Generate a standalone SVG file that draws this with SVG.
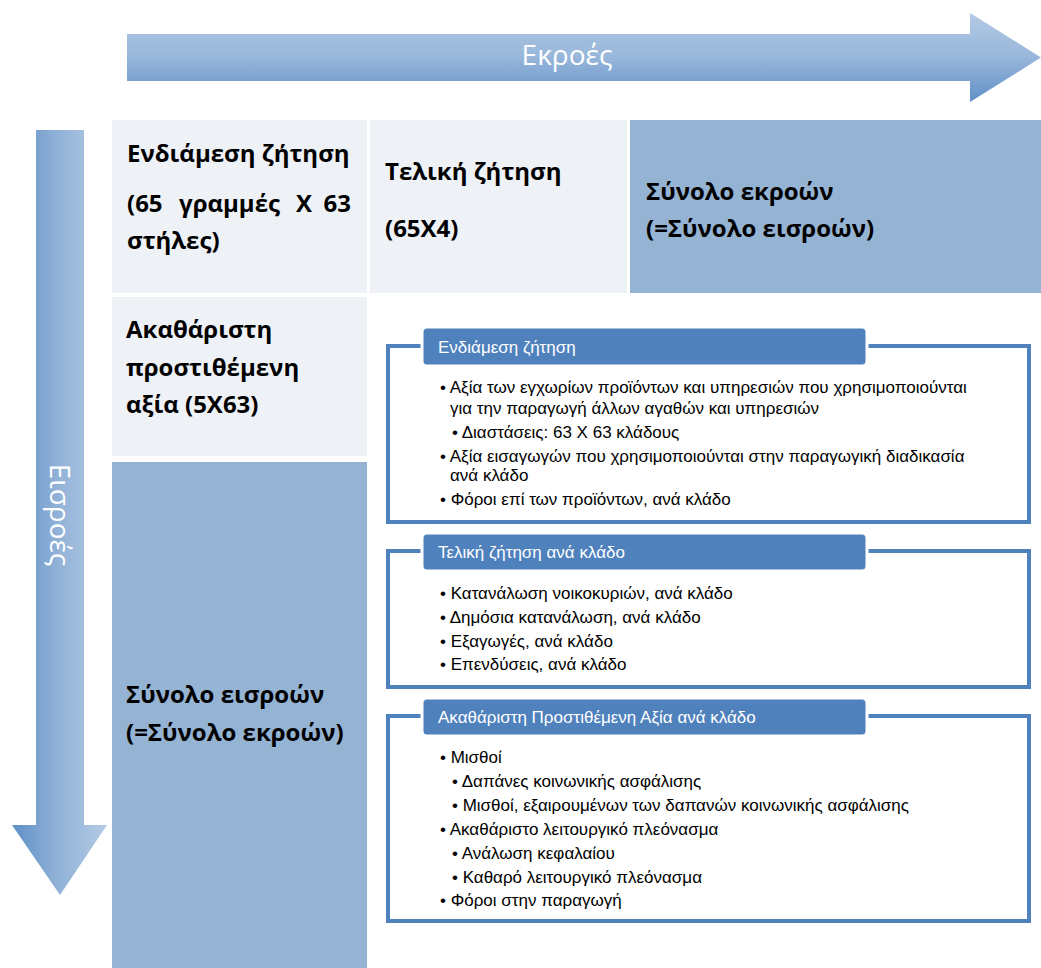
<svg xmlns="http://www.w3.org/2000/svg" width="1041" height="968" viewBox="0 0 1041 968">
  <defs>
    <linearGradient id="gTop" x1="0" y1="0" x2="0" y2="1">
      <stop offset="0" stop-color="#b3cae4"/>
      <stop offset="0.5" stop-color="#97b6da"/>
      <stop offset="1" stop-color="#5f8fc7"/>
    </linearGradient>
    <linearGradient id="gLeft" x1="0" y1="0" x2="1" y2="0">
      <stop offset="0" stop-color="#5f8fc7"/>
      <stop offset="0.5" stop-color="#93b3d8"/>
      <stop offset="1" stop-color="#b3cae4"/>
    </linearGradient>
    <style>
      .light { fill: #eef1f6; }
      .mid { fill: #95b3d3; }
      .cell { font-family: "Open Sans", "Liberation Sans", sans-serif; font-weight: bold; font-size: 24px; fill: #000; }
      .frame { fill: none; stroke: #4f81bd; stroke-width: 4; }
      .hdr { fill: #4f81bd; stroke: #ffffff; stroke-width: 3; }
      .hdrT { font-family: "Liberation Sans", Arial, sans-serif; font-size: 17px; fill: #ffffff; }
      .item { font-family: "Liberation Sans", Arial, sans-serif; font-size: 17px; fill: #000; }
      .arrT { font-family: "Open Sans", "Liberation Sans", sans-serif; font-size: 28px; fill: #ffffff; }
    </style>
  </defs>
  <rect width="1041" height="968" fill="#ffffff"/>

  <g id="connectors">
    <path id="arrow-outputs" d="M127 34 H970 V13 L1041 57.5 L970 102 V81 H127 Z" fill="url(#gTop)"/>
    <text class="arrT" x="567" y="65" text-anchor="middle">Εκροές</text>
    <path id="arrow-inputs" d="M36 130 H84 V825 H107 L60 895 L12 825 H36 Z" fill="url(#gLeft)"/>
    <text class="arrT" transform="translate(50,515) rotate(90)" text-anchor="middle">Εισροές</text>
  </g>

  <g id="cell-intermediate">
    <rect class="light" x="112" y="120" width="255" height="173"/>
    <text class="cell" x="127" y="162">Ενδιάμεση ζήτηση</text>
    <text class="cell" y="212"><tspan x="127">(65</tspan><tspan x="179">γραμμές</tspan><tspan x="296">X</tspan><tspan x="351" text-anchor="end">63</tspan></text>
    <text class="cell" x="127" y="249">στήλες)</text>
  </g>

  <g id="cell-final">
    <rect class="light" x="370" y="120" width="257" height="173"/>
    <text class="cell" x="385" y="180">Τελική ζήτηση</text>
    <text class="cell" x="385" y="237">(65X4)</text>
  </g>

  <g id="cell-total-outputs">
    <rect class="mid" x="630" y="120" width="411" height="173"/>
    <text class="cell" x="646" y="200">Σύνολο εκροών</text>
    <text class="cell" x="646" y="237">(=Σύνολο εισροών)</text>
  </g>

  <g id="cell-gva">
    <rect class="light" x="112" y="297" width="255" height="159"/>
    <text class="cell" x="126" y="338">Ακαθάριστη</text>
    <text class="cell" x="126" y="376">προστιθέμενη</text>
    <text class="cell" x="126" y="413">αξία (5X63)</text>
  </g>

  <g id="cell-total-inputs">
    <rect class="mid" x="112" y="462" width="255" height="506"/>
    <text class="cell" x="126" y="703">Σύνολο εισροών</text>
    <text class="cell" x="126" y="741">(=Σύνολο εκροών)</text>
  </g>

  <g id="box-intermediate">
    <rect class="frame" x="388" y="346" width="641" height="176"/>
    <rect class="hdr" x="422" y="327" width="445" height="39" rx="5"/>
    <text class="hdrT" x="438" y="353">Ενδιάμεση ζήτηση</text>
    <text class="item" x="440" y="393">• Αξία των εγχωρίων προϊόντων και υπηρεσιών που χρησιμοποιούνται</text>
    <text class="item" x="450" y="414">για την παραγωγή άλλων αγαθών και υπηρεσιών</text>
    <text class="item" x="452" y="438">• Διαστάσεις: 63 X 63 κλάδους</text>
    <text class="item" x="440" y="462">• Αξία εισαγωγών που χρησιμοποιούνται στην παραγωγική διαδικασία</text>
    <text class="item" x="450" y="481">ανά κλάδο</text>
    <text class="item" x="440" y="505">• Φόροι επί των προϊόντων, ανά κλάδο</text>
  </g>

  <g id="box-final">
    <rect class="frame" x="388" y="551" width="641" height="136"/>
    <rect class="hdr" x="422" y="533" width="445" height="38" rx="5"/>
    <text class="hdrT" x="438" y="558">Τελική ζήτηση ανά κλάδο</text>
    <text class="item" x="440" y="599">• Κατανάλωση νοικοκυριών, ανά κλάδο</text>
    <text class="item" x="440" y="623">• Δημόσια κατανάλωση, ανά κλάδο</text>
    <text class="item" x="440" y="647">• Εξαγωγές, ανά κλάδο</text>
    <text class="item" x="440" y="670">• Επενδύσεις, ανά κλάδο</text>
  </g>

  <g id="box-gva">
    <rect class="frame" x="388" y="716" width="641" height="205"/>
    <rect class="hdr" x="422" y="698" width="445" height="38" rx="5"/>
    <text class="hdrT" x="438" y="723">Ακαθάριστη Προστιθέμενη Αξία ανά κλάδο</text>
    <text class="item" x="440" y="763">• Μισθοί</text>
    <text class="item" x="452" y="787">• Δαπάνες κοινωνικής ασφάλισης</text>
    <text class="item" x="452" y="811">• Μισθοί, εξαιρουμένων των δαπανών κοινωνικής ασφάλισης</text>
    <text class="item" x="440" y="835">• Ακαθάριστο λειτουργικό πλεόνασμα</text>
    <text class="item" x="452" y="859">• Ανάλωση κεφαλαίου</text>
    <text class="item" x="452" y="883">• Καθαρό λειτουργικό πλεόνασμα</text>
    <text class="item" x="440" y="906">• Φόροι στην παραγωγή</text>
  </g>
</svg>
